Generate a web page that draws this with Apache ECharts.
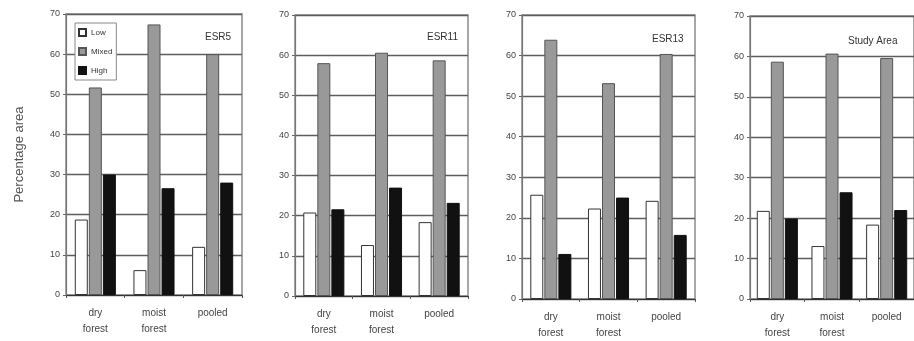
<!DOCTYPE html>
<html>
<head>
<meta charset="utf-8">
<script src="https://cdn.jsdelivr.net/npm/echarts@6/dist/echarts.min.js"></script>
<style>html,body{margin:0;padding:0;background:#fff}#c{width:914px;height:341px}</style>
</head>
<body>
<div id="c"></div>
<script>
var categories = ['dry\nforest', 'moist\nforest', 'pooled'];
var panelTitles = ['ESR5', 'ESR11', 'ESR13', 'Study Area'];
var yTicks = [0, 10, 20, 30, 40, 50, 60, 70];
var lowESR5 = [18.8, 6.2, 12.0];
var mixedESR5 = [51.7, 67.4, 60.0];
var highESR5 = [30.0, 26.6, 28.0];
var lowESR11 = [20.8, 12.7, 18.4];
var mixedESR11 = [58.0, 60.6, 58.7];
var highESR11 = [21.6, 27.0, 23.2];
var lowESR13 = [25.7, 22.3, 24.2];
var mixedESR13 = [63.9, 53.2, 60.4];
var highESR13 = [11.1, 25.0, 15.8];
var lowStudy = [21.8, 13.1, 18.4];
var mixedStudy = [58.7, 60.7, 59.6];
var highStudy = [19.9, 26.4, 22.0];

var panels = [
  {low: lowESR5, mixed: mixedESR5, high: highESR5},
  {low: lowESR11, mixed: mixedESR11, high: highESR11},
  {low: lowESR13, mixed: mixedESR13, high: highESR13},
  {low: lowStudy, mixed: mixedStudy, high: highStudy}
];

var gridPos = [
  {left: 66, top: 14, width: 176, height: 281},
  {left: 295, top: 15, width: 173, height: 281},
  {left: 522, top: 15, width: 173, height: 284},
  {left: 750, top: 16, width: 173, height: 284}
];
var titlePos = [
  {left: 200, top: 27},
  {left: 422, top: 27},
  {left: 647, top: 29},
  {left: 843, top: 31}
];

var font = 'Liberation Sans, Arial, sans-serif';
var grids = [], xAxes = [], yAxes = [], series = [], titles = [];
gridPos.forEach(function (g, i) {
  grids.push(Object.assign({show: true, borderColor: '#8a8a8a', borderWidth: 1.5, backgroundColor: '#fff'}, g));
  xAxes.push({
    type: 'category', gridIndex: i, data: categories,
    axisLine: {lineStyle: {color: '#333', width: 1.2}},
    axisTick: {show: true, length: 3, lineStyle: {color: '#555'}},
    axisLabel: {color: '#444', fontSize: 10, fontFamily: font, lineHeight: 16, margin: 10}
  });
  yAxes.push({
    type: 'value', gridIndex: i, min: 0, max: 70, interval: 10,
    name: i === 0 ? 'Percentage area' : '',
    nameLocation: 'middle', nameGap: 40, nameRotate: 90,
    nameTextStyle: {color: '#555', fontSize: 13, fontFamily: font},
    axisLine: {show: true, lineStyle: {color: '#777', width: 1.2}},
    axisTick: {show: true, length: 3, lineStyle: {color: '#666'}},
    axisLabel: {color: '#444', fontSize: 9, fontFamily: font, margin: 6,
      formatter: function (v) { return yTicks.indexOf(v) >= 0 ? String(v) : ''; }},
    splitLine: {show: true, lineStyle: {color: '#5e5e5e', width: 1.3}}
  });
  var p = panels[i];
  series.push({name: 'Low', type: 'bar', xAxisIndex: i, yAxisIndex: i, data: p.low,
    barWidth: 13, barGap: '8%',
    itemStyle: {color: '#fff', borderColor: '#333', borderWidth: 1}});
  series.push({name: 'Mixed', type: 'bar', xAxisIndex: i, yAxisIndex: i, data: p.mixed,
    barWidth: 13, barGap: '8%',
    itemStyle: {color: '#999', borderColor: '#555', borderWidth: 1}});
  series.push({name: 'High', type: 'bar', xAxisIndex: i, yAxisIndex: i, data: p.high,
    barWidth: 13, barGap: '8%',
    itemStyle: {color: '#111', borderColor: '#111', borderWidth: 1}});
  titles.push({text: panelTitles[i], left: titlePos[i].left, top: titlePos[i].top,
    textStyle: {color: '#333', fontSize: 10, fontWeight: 'normal', fontFamily: font}});
});

var chart = echarts.init(document.getElementById('c'));
chart.setOption({
  animation: false,
  title: titles,
  legend: {
    data: ['Low', 'Mixed', 'High'], orient: 'vertical', left: 75, top: 23,
    icon: 'rect', itemWidth: 7, itemHeight: 7, itemGap: 10, padding: [5, 4, 5, 3],
    borderColor: '#888', borderWidth: 1, backgroundColor: '#fff',
    textStyle: {color: '#333', fontSize: 8, fontFamily: font}
  },
  grid: grids, xAxis: xAxes, yAxis: yAxes, series: series
});
</script>
</body>
</html>
